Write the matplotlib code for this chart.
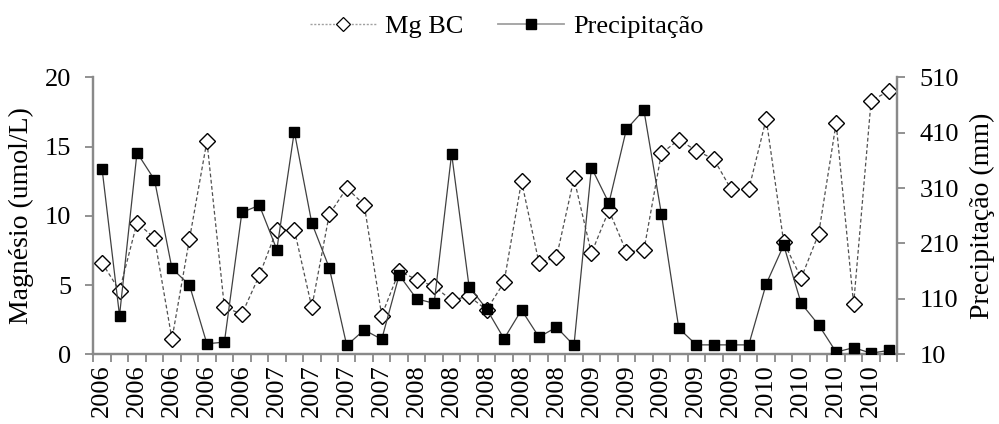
import numpy as np
import matplotlib
matplotlib.use("Agg")
import matplotlib.pyplot as plt
from matplotlib.lines import Line2D

plt.rcParams['font.family'] = ['Liberation Serif', 'DejaVu Serif']

# Sampling campaigns (one per point), year shown on every second one
year_labels = ["2006", "2006", "2006", "2006", "2006",
               "2007", "2007", "2007", "2007",
               "2008", "2008", "2008", "2008", "2008",
               "2009", "2009", "2009", "2009", "2009",
               "2010", "2010", "2010", "2010"]

# Magnesium concentration (umol/L)
mg_bc = [6.6, 4.6, 9.5, 8.4, 1.1, 8.3, 15.4, 3.4, 2.9, 5.7,
         9.0, 9.0, 3.4, 10.1, 12.0, 10.8, 2.8, 6.0, 5.4, 4.9,
         3.9, 4.2, 3.2, 5.2, 12.5, 6.6, 7.0, 12.7, 7.3, 10.4,
         7.4, 7.5, 14.5, 15.5, 14.7, 14.1, 11.9, 11.9, 17.0, 8.1,
         5.5, 8.7, 16.7, 3.6, 18.3, 19.0]

# Precipitation (mm)
precip = [345, 80, 374, 325, 165, 135, 29, 32, 266, 279,
          199, 412, 247, 166, 26, 54, 37, 153, 110, 102,
          372, 132, 92, 38, 90, 41, 59, 26, 347, 283,
          416, 451, 264, 57, 27, 27, 27, 27, 137, 207,
          102, 63, 14, 22, 12, 17]

x = np.arange(len(mg_bc))
spine_col = "#898989"

fig = plt.figure(figsize=(9.99, 4.24), dpi=100)
ax = fig.add_axes([0.0934, 0.1644, 0.8048, 0.6533])
ax2 = ax.twinx()

ax.plot(x, mg_bc, linestyle=(0, (3, 2)), color="#505050", linewidth=0.9,
        marker="D", markersize=8.5, markerfacecolor="white",
        markeredgecolor="black", markeredgewidth=1.0, zorder=3)
ax2.plot(x, precip, linestyle="-", color="#404040", linewidth=0.9,
         marker="s", markersize=7.2, markerfacecolor="black",
         markeredgecolor="black", zorder=3)

ax.set_xlim(-0.5, len(x) - 0.5)
ax.set_ylim(0, 20)
ax.set_yticks([0, 5, 10, 15, 20])
ax2.set_ylim(10, 510)
ax2.set_yticks([10, 110, 210, 310, 410, 510])

# category boundaries carry the tick marks, labels sit on every second point
ax.set_xticks(np.arange(-0.5, len(x)), labels=[])
ax.set_xticks(np.arange(0, len(x), 2), labels=year_labels, minor=True)
ax.tick_params(axis="x", which="minor", length=0, rotation=90, pad=7)
ax.tick_params(axis="x", which="major", direction="out", length=6,
               color=spine_col, width=1.3)

fs = 19
for a in (ax, ax2):
    for s in a.spines.values():
        s.set_color(spine_col)
        s.set_linewidth(1.6)
    a.spines["top"].set_visible(False)
    a.tick_params(axis="y", direction="out", length=6, color=spine_col,
                  width=1.3, labelsize=fs, pad=10)
ax.tick_params(axis="x", which="minor", labelsize=fs)

ax.set_ylabel("Magnésio (umol/L)", fontsize=20, labelpad=8)
ax2.set_ylabel("Precipitação (mm)", fontsize=20, labelpad=8)

handles = [
    Line2D([], [], linestyle=(0, (1.5, 1.2)), color="#a0a0a0", linewidth=1.0,
           marker="D", markersize=7, markerfacecolor="white",
           markeredgecolor="black", markeredgewidth=0.9),
    Line2D([], [], linestyle="-", color="#a0a0a0", linewidth=1.3,
           marker="s", markersize=6.5, markerfacecolor="black",
           markeredgecolor="black"),
]
fig.legend(handles, ["Mg BC", "Precipitação"], loc="center",
           bbox_to_anchor=(0.507, 0.937), ncol=2, frameon=False, fontsize=fs,
           handlelength=2.5, columnspacing=1.3, handletextpad=0.35)

fig.savefig("out.png", dpi=100)
